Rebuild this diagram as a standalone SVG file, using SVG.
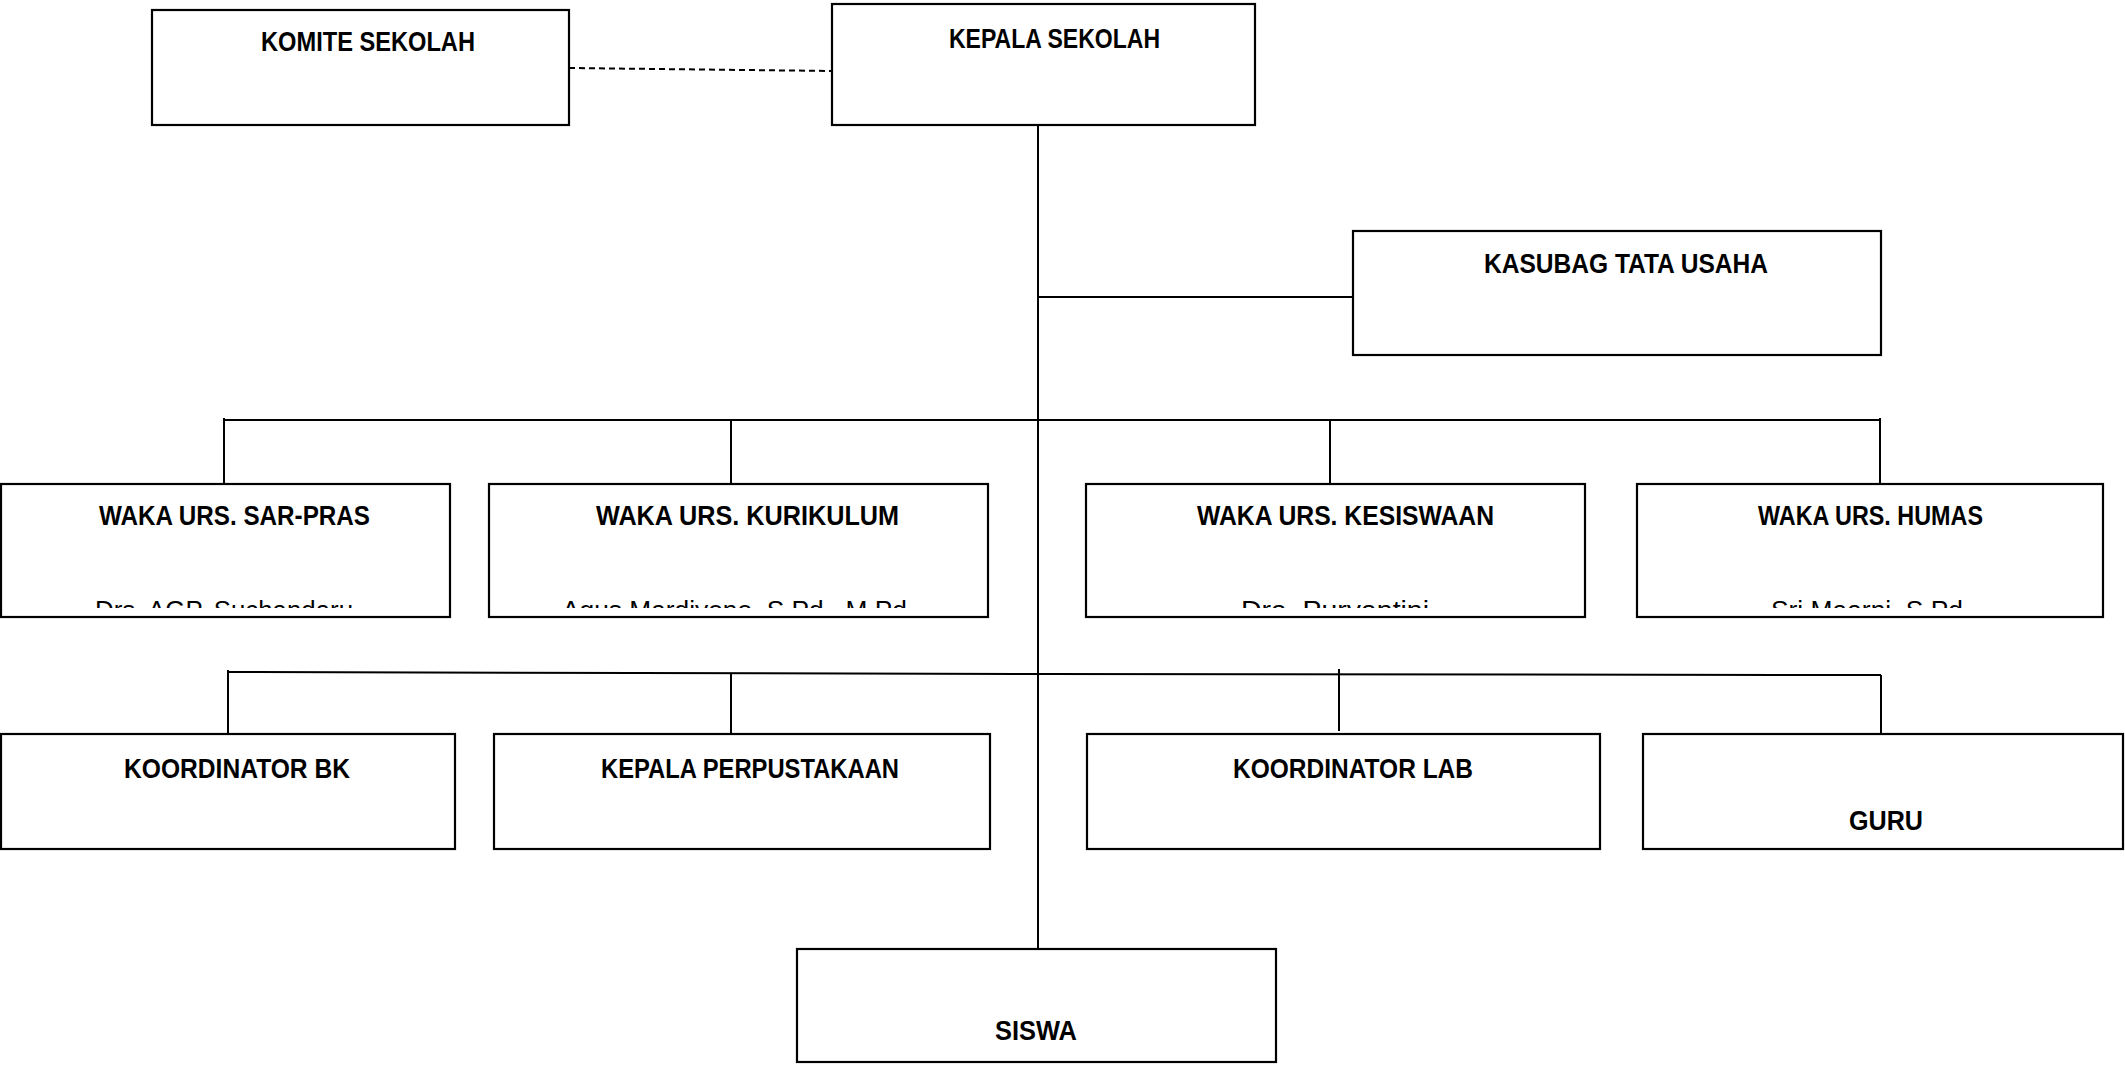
<svg xmlns="http://www.w3.org/2000/svg" width="2125" height="1066" viewBox="0 0 2125 1066">
<style>
.box{fill:#fff;stroke:#000;stroke-width:2.2}
.ln{fill:none;stroke:#000;stroke-width:2}
.dash{fill:none;stroke:#000;stroke-width:2;stroke-dasharray:6 4}
.t{font-family:"Liberation Sans",Arial,sans-serif;font-weight:bold;font-size:27.5px;fill:#000}
.n{font-family:"Liberation Sans",Arial,sans-serif;font-size:26px;fill:#000}
</style>
<defs>
<clipPath id="nameclip"><rect x="0" y="590" width="2125" height="18"/></clipPath>
</defs>
<rect width="2125" height="1066" fill="#fff"/>
<g id="connectors">
<path class="dash" d="M569 68 L832 71"/>
<path class="ln" d="M1038 125 V949"/>
<path class="ln" d="M1038 297 H1353"/>
<path class="ln" d="M224 420 H1880"/>
<path class="ln" d="M224 418 V484 M731 420 V484 M1330 420 V484 M1880 418 V484"/>
<path class="ln" d="M228 672 L1038 674 L1881 675"/>
<path class="ln" d="M228 670 V734 M731 674 V737 M1339 669 V731 M1881 675 V739"/>
</g>
<g id="komite"><rect class="box" x="152" y="10" width="417" height="115"/><text class="t" x="261" y="51" textLength="214" lengthAdjust="spacingAndGlyphs">KOMITE SEKOLAH</text></g>
<g id="kepala"><rect class="box" x="832" y="4" width="423" height="121"/><text class="t" x="949" y="48" textLength="211" lengthAdjust="spacingAndGlyphs">KEPALA SEKOLAH</text></g>
<g id="kasubag"><rect class="box" x="1353" y="231" width="528" height="124"/><text class="t" x="1484" y="273" textLength="284" lengthAdjust="spacingAndGlyphs">KASUBAG TATA USAHA</text></g>
<g id="waka-sarpras"><rect class="box" x="1" y="484" width="449" height="133"/><text class="t" x="99" y="525" textLength="271" lengthAdjust="spacingAndGlyphs">WAKA URS. SAR-PRAS</text><text class="n" x="95" y="619" textLength="258" lengthAdjust="spacingAndGlyphs" clip-path="url(#nameclip)">Drs. AGP. Suchandaru</text></g>
<g id="waka-kurikulum"><rect class="box" x="489" y="484" width="499" height="133"/><text class="t" x="596" y="525" textLength="303" lengthAdjust="spacingAndGlyphs">WAKA URS. KURIKULUM</text><text class="n" x="562" y="619" textLength="345" lengthAdjust="spacingAndGlyphs" clip-path="url(#nameclip)">Agus Mardiyono, S.Pd., M.Pd</text></g>
<g id="waka-kesiswaan"><rect class="box" x="1086" y="484" width="499" height="133"/><text class="t" x="1197" y="525" textLength="297" lengthAdjust="spacingAndGlyphs">WAKA URS. KESISWAAN</text><text class="n" x="1241" y="619" textLength="188" lengthAdjust="spacingAndGlyphs" clip-path="url(#nameclip)">Dra. Puryantini</text></g>
<g id="waka-humas"><rect class="box" x="1637" y="484" width="466" height="133"/><text class="t" x="1758" y="525" textLength="225" lengthAdjust="spacingAndGlyphs">WAKA URS. HUMAS</text><text class="n" x="1771" y="619" textLength="192" lengthAdjust="spacingAndGlyphs" clip-path="url(#nameclip)">Sri Maarni, S.Pd</text></g>
<g id="koordinator-bk"><rect class="box" x="1" y="734" width="454" height="115"/><text class="t" x="124" y="778" textLength="226" lengthAdjust="spacingAndGlyphs">KOORDINATOR BK</text></g>
<g id="kepala-perpustakaan"><rect class="box" x="494" y="734" width="496" height="115"/><text class="t" x="601" y="778" textLength="298" lengthAdjust="spacingAndGlyphs">KEPALA PERPUSTAKAAN</text></g>
<g id="koordinator-lab"><rect class="box" x="1087" y="734" width="513" height="115"/><text class="t" x="1233" y="778" textLength="240" lengthAdjust="spacingAndGlyphs">KOORDINATOR LAB</text></g>
<g id="guru"><rect class="box" x="1643" y="734" width="480" height="115"/><text class="t" x="1849" y="830" textLength="74" lengthAdjust="spacingAndGlyphs">GURU</text></g>
<g id="siswa"><rect class="box" x="797" y="949" width="479" height="113"/><text class="t" x="995" y="1040" textLength="82" lengthAdjust="spacingAndGlyphs">SISWA</text></g>
</svg>
